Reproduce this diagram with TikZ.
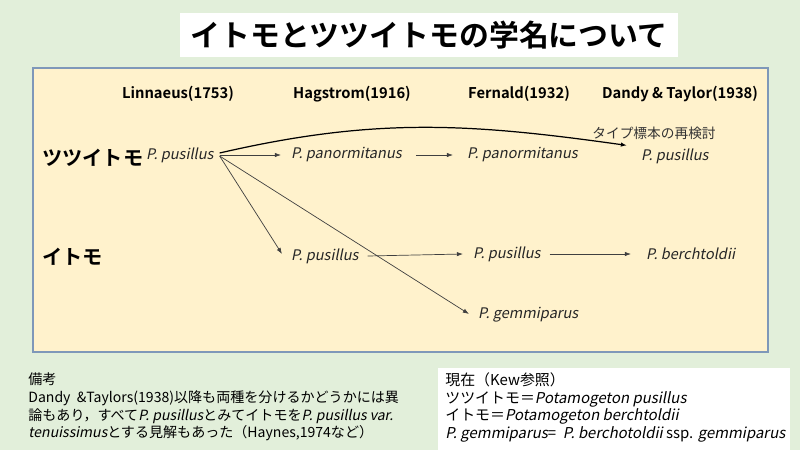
\documentclass[tikz,border=0pt]{standalone}
\usepackage{fontspec}
\setmainfont{Noto Sans CJK JP}[ItalicFont=Noto Sans CJK JP, ItalicFeatures={FakeSlant=0.2}, BoldFont={Noto Sans CJK JP Bold}]
\usetikzlibrary{arrows.meta,positioning,calc}
\definecolor{bggreen}{RGB}{226,239,218}
\definecolor{panel}{RGB}{255,242,204}
\definecolor{frame}{RGB}{127,152,185}

\begin{document}
\begin{tikzpicture}[x=0.02cm, y=-0.02cm,
    head/.style={font=\fontsize{8.4}{10}\selectfont\bfseries},
    plant/.style={font=\fontsize{11.5}{13}\selectfont\bfseries, anchor=west},
    sp/.style={font=\fontsize{8.3}{9}\selectfont\itshape, anchor=west, inner sep=1pt, text=black!85},
    note/.style={font=\fontsize{8}{10.2}\selectfont, align=left, anchor=north west, inner sep=0pt},
    arrow/.style={-{Latex[length=3.5pt,width=2.5pt]}, thin, draw=black!75}
]
\useasboundingbox (0,0) rectangle (800,450);
\fill[bggreen] (0,0) rectangle (800,450);

% title
\fill[white] (180,13) rectangle (678,57);
\node[font=\fontsize{17}{20}\selectfont\bfseries] (title) at (429,35) {イトモとツツイトモの学名について};

% main panel
\filldraw[fill=panel, draw=frame, line width=0.8pt] (33,68) rectangle (768,352);

% column heads
\node[head] (linn) at (178,94) {Linnaeus(1753)};
\node[head] (hag) at (352,94) {Hagstrom(1916)};
\node[head] (fern) at (519,94) {Fernald(1932)};
\node[head] (dandy) at (680,94) {Dandy \& Taylor(1938)};

% rows
\node[plant] (tsutsu) at (36,158) {ツツイトモ};
\node[plant] (ito) at (36,257) {イトモ};

% species
\node[sp] (lpus) at (144,155) {P. pusillus};
\node[sp] (hpan) at (289,155) {P. panormitanus};
\node[sp] (fpan) at (465,155) {P. panormitanus};
\node[sp] (dpus) at (639,156) {P. pusillus};
\node[sp] (hpus) at (289,256) {P. pusillus};
\node[sp] (fpus) at (471,254) {P. pusillus};
\node[sp] (dber) at (644,254) {P. berchtoldii};
\node[sp] (fgem) at (476,315) {P. gemmiparus};

\node[font=\fontsize{7.8}{9}\selectfont, text=black!80] (retype) at (654,133) {タイプ標本の再検討};

% connectors
\draw[arrow] ($(lpus.east)+(4,0)$) -- ($(hpan.west)+(-8,0)$);
\draw[arrow] ($(hpan.east)+(12,0)$) -- ($(fpan.west)+(-12,0)$);
\draw[arrow, draw=black, line width=0.7pt] ($(lpus.east)+(4,-2)$) to[out=13, in=172] ($(dpus.north west)+(-12,-1)$);
\draw[arrow] ($(lpus.east)+(4,1)$) -- ($(hpus.west)+(-7,-2)$);
\draw[arrow] ($(lpus.east)+(4,1)$) -- ($(fgem.west)+(-7,-1)$);
\draw[arrow] ($(hpus.east)+(7,0)$) -- ($(fpus.west)+(-8,0)$);
\draw[arrow] ($(fpus.east)+(7,0)$) -- ($(dber.west)+(-13,0)$);

% remarks
\node[note] (remark) at (28,372) {備考\\
Dandy \ \&Taylors(1938)以降も両種を分けるかどうかには異\\
論もあり，すべて\textit{P. pusillus}とみてイトモを\textit{P. pusillus var.}\\
\textit{tenuissimus}とする見解もあった（Haynes,1974など）};

% current names
\fill[white] (438,368) rectangle (790,450);
\node[note, font=\fontsize{8.5}{10.2}\selectfont] (kew) at (445,372) {現在（Kew参照）\\
ツツイトモ＝\textit{Potamogeton pusillus}\\
イトモ＝\textit{Potamogeton berchtoldii}\\
\textit{P. gemmiparus}= \ \textit{P. berchotoldii} ssp. \textit{gemmiparus}};

\end{tikzpicture}
\end{document}
